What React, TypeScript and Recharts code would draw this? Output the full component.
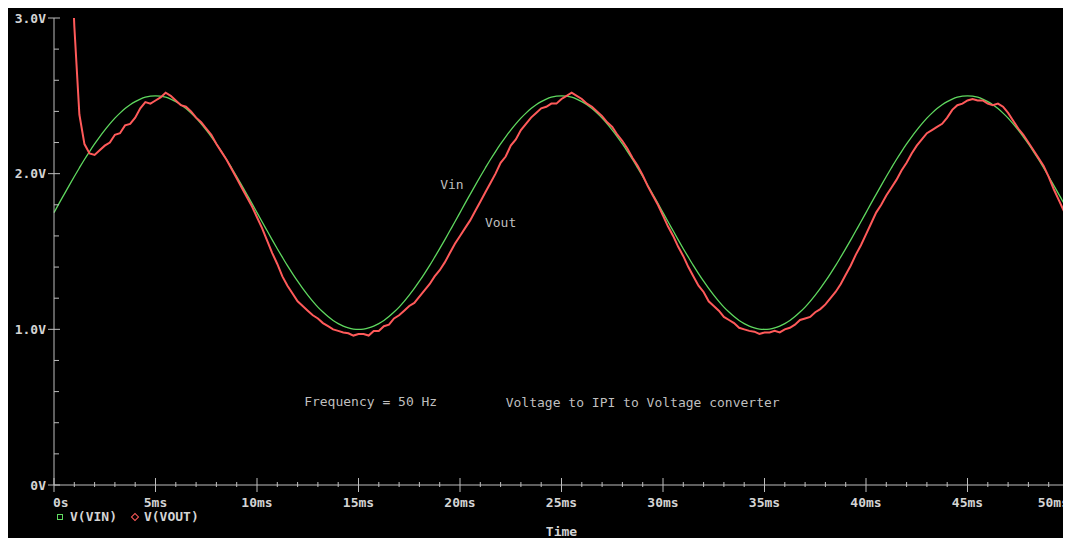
import { LineChart, Line, XAxis, YAxis, ReferenceDot, Legend } from "recharts";

// sample step of both traces, ms
const SAMPLE_STEP_MS = 0.25;

// V(VIN), read every 0.25 ms from 0 to 50 ms
const vin = [
  1.75, 1.809, 1.867, 1.925, 1.982, 2.037, 2.091, 2.142, 2.191, 2.237, 2.28, 2.32, 2.357, 2.389, 2.418, 2.443, 2.463, 2.479, 2.491, 2.498, 2.5,
  2.498, 2.491, 2.479, 2.463, 2.443, 2.418, 2.389, 2.357, 2.32, 2.28, 2.237, 2.191, 2.142, 2.091, 2.037, 1.982, 1.925, 1.867, 1.809, 1.75,
  1.691, 1.633, 1.575, 1.518, 1.463, 1.409, 1.358, 1.309, 1.263, 1.22, 1.18, 1.143, 1.111, 1.082, 1.057, 1.037, 1.021, 1.009, 1.002, 1.0,
  1.002, 1.009, 1.021, 1.037, 1.057, 1.082, 1.111, 1.143, 1.18, 1.22, 1.263, 1.309, 1.358, 1.409, 1.463, 1.518, 1.575, 1.633, 1.691, 1.75,
  1.809, 1.867, 1.925, 1.982, 2.037, 2.091, 2.142, 2.191, 2.237, 2.28, 2.32, 2.357, 2.389, 2.418, 2.443, 2.463, 2.479, 2.491, 2.498, 2.5,
  2.498, 2.491, 2.479, 2.463, 2.443, 2.418, 2.389, 2.357, 2.32, 2.28, 2.237, 2.191, 2.142, 2.091, 2.037, 1.982, 1.925, 1.867, 1.809, 1.75,
  1.691, 1.633, 1.575, 1.518, 1.463, 1.409, 1.358, 1.309, 1.263, 1.22, 1.18, 1.143, 1.111, 1.082, 1.057, 1.037, 1.021, 1.009, 1.002, 1.0,
  1.002, 1.009, 1.021, 1.037, 1.057, 1.082, 1.111, 1.143, 1.18, 1.22, 1.263, 1.309, 1.358, 1.409, 1.463, 1.518, 1.575, 1.633, 1.691, 1.75,
  1.809, 1.867, 1.925, 1.982, 2.037, 2.091, 2.142, 2.191, 2.237, 2.28, 2.32, 2.357, 2.389, 2.418, 2.443, 2.463, 2.479, 2.491, 2.498, 2.5,
  2.498, 2.491, 2.479, 2.463, 2.443, 2.418, 2.389, 2.357, 2.32, 2.28, 2.237, 2.191, 2.142, 2.091, 2.037, 1.982, 1.925, 1.867, 1.809, 1.75,
];

// V(VOUT), same sampling (starts far above the 3 V top, clipped)
const vout = [
  8.0, 6.2, 4.9, 3.75, 2.95, 2.38, 2.19, 2.13, 2.12, 2.15, 2.18,
  2.2, 2.25, 2.26, 2.31, 2.32, 2.36, 2.42, 2.46, 2.45, 2.47,
  2.49, 2.52, 2.5, 2.47, 2.44, 2.43, 2.4, 2.36, 2.33, 2.29,
  2.25, 2.19, 2.14, 2.09, 2.03, 1.97, 1.91, 1.85, 1.79, 1.72,
  1.65, 1.57, 1.49, 1.42, 1.34, 1.28, 1.23, 1.18, 1.15, 1.12,
  1.09, 1.07, 1.04, 1.02, 1.0, 0.99, 0.98, 0.975, 0.96, 0.97,
  0.97, 0.96, 0.99, 0.99, 1.02, 1.03, 1.07, 1.09, 1.12, 1.15,
  1.17, 1.21, 1.25, 1.29, 1.34, 1.38, 1.43, 1.49, 1.55, 1.6,
  1.65, 1.7, 1.76, 1.82, 1.88, 1.94, 2.0, 2.07, 2.11, 2.18,
  2.22, 2.28, 2.32, 2.36, 2.39, 2.42, 2.43, 2.45, 2.45, 2.48,
  2.5, 2.52, 2.5, 2.48, 2.45, 2.43, 2.4, 2.37, 2.33, 2.3,
  2.25, 2.21, 2.16, 2.1, 2.05, 1.99, 1.92, 1.86, 1.8, 1.73,
  1.66, 1.6, 1.53, 1.47, 1.4, 1.34, 1.28, 1.24, 1.18, 1.15,
  1.12, 1.08, 1.06, 1.04, 1.01, 1.0, 0.99, 0.985, 0.97, 0.98,
  0.98, 0.99, 0.98, 1.0, 1.01, 1.03, 1.06, 1.07, 1.08, 1.11,
  1.13, 1.16, 1.2, 1.24, 1.29, 1.35, 1.41, 1.48, 1.54, 1.61,
  1.68, 1.75, 1.8, 1.86, 1.91, 1.96, 2.02, 2.07, 2.13, 2.18,
  2.22, 2.26, 2.28, 2.3, 2.32, 2.36, 2.41, 2.44, 2.45, 2.47,
  2.48, 2.47, 2.47, 2.45, 2.44, 2.45, 2.43, 2.39, 2.34, 2.29,
  2.25, 2.2, 2.15, 2.1, 2.05, 1.98, 1.9, 1.83, 1.76, 1.69,
];

const timeTicks = [
  0, 1, 2, 3, 4, 5, 6, 7, 8, 9, 10, 11, 12, 13, 14, 15, 16, 17, 18, 19, 20, 21, 22, 23, 24, 25,
  26, 27, 28, 29, 30, 31, 32, 33, 34, 35, 36, 37, 38, 39, 40, 41, 42, 43, 44, 45, 46, 47, 48, 49, 50,
];
const timeLabels = ["0s", "5ms", "10ms", "15ms", "20ms", "25ms", "30ms", "35ms", "40ms", "45ms", "50ms"];

const voltTicks = [0, 0.2, 0.4, 0.6, 0.8, 1, 1.2, 1.4, 1.6, 1.8, 2, 2.2, 2.4, 2.6, 2.8, 3];
const voltLabels = ["0V", "1.0V", "2.0V", "3.0V"];

const notes = [
  { text: "Vin", t: 19.6, v: 1.93 },
  { text: "Vout", t: 22.0, v: 1.69 },
  { text: "Frequency = 50 Hz", t: 15.6, v: 0.54 },
  { text: "Voltage to IPI to Voltage converter", t: 29.0, v: 0.53 },
];

const rows = vin.map((v, i) => ({ t: i * SAMPLE_STEP_MS, vin: v, vout: vout[i] }));

const AXIS = "#bdbdbd";
const TEXT = "#d4d4d4";
const VIN_COLOR = "#5fd85f";
const VOUT_COLOR = "#ff5a5a";
const MONO = "'DejaVu Sans Mono', 'Liberation Mono', monospace";

const isMajorVolt = (v: number) => Math.abs(v - Math.round(v)) < 1e-6;

function BottomTick(props: any) {
  const { x, y, payload } = props;
  const v = payload.value;
  const major = v % 5 === 0;
  const anchor = v === 0 ? "start" : v === 50 ? "end" : "middle";
  return (
    <g>
      <line x1={x} x2={x} y1={y - (major ? 7 : 3)} y2={y + (major ? 7 : 2)} stroke={AXIS} />
      {major && (
        <text
          x={v === 0 ? x - 1 : x}
          y={y + 22}
          textAnchor={anchor}
          fill={TEXT}
          fontFamily={MONO}
          fontSize={13}
          fontWeight="bold"
        >
          {timeLabels[v / 5]}
        </text>
      )}
    </g>
  );
}

function TopTick(props: any) {
  const { x, y, payload } = props;
  const major = payload.value % 5 === 0;
  return <line x1={x} x2={x} y1={y} y2={y + (major ? 6 : 4)} stroke={AXIS} />;
}

function LeftTick(props: any) {
  const { x, y, payload } = props;
  const v = payload.value;
  if (!isMajorVolt(v)) {
    return <line x1={x} x2={x + 5} y1={y} y2={y} stroke={AXIS} />;
  }
  return (
    <g>
      <line x1={x - 6} x2={x + 6} y1={y} y2={y} stroke={AXIS} />
      <text x={x - 8} y={y + 4.5} textAnchor="end" fill={TEXT} fontFamily={MONO} fontSize={13} fontWeight="bold">
        {voltLabels[Math.round(v)]}
      </text>
    </g>
  );
}

function RightTick(props: any) {
  const { x, y, payload } = props;
  const major = isMajorVolt(payload.value);
  return <line x1={x - (major ? 6 : 4)} x2={x} y1={y} y2={y} stroke={AXIS} />;
}

function LegendRow() {
  return (
    <div
      style={{
        display: "flex",
        alignItems: "center",
        fontFamily: MONO,
        fontSize: 13,
        fontWeight: "bold",
        color: TEXT,
        lineHeight: "14px",
      }}
    >
      <span style={{ width: 4, height: 4, border: `1px solid ${VIN_COLOR}`, marginRight: 7 }} />
      <span>V(VIN)</span>
      <span
        style={{
          width: 4,
          height: 4,
          border: `1px solid ${VOUT_COLOR}`,
          transform: "rotate(45deg)",
          marginLeft: 15,
          marginRight: 6,
        }}
      />
      <span>V(VOUT)</span>
    </div>
  );
}

export default function App() {
  return (
    <div style={{ width: 1063, height: 530, background: "#000" }}>
      <LineChart width={1063} height={530} data={rows} margin={{ top: 10, right: 2, bottom: 0, left: 0 }}>
        <XAxis
          dataKey="t"
          type="number"
          domain={[0, 50]}
          ticks={timeTicks}
          interval={0}
          height={53}
          tickSize={0}
          tickMargin={0}
          tick={<BottomTick />}
          axisLine={{ stroke: AXIS }}
          tickLine={false}
          label={{
            value: "Time",
            position: "insideBottom",
            offset: 2,
            fill: TEXT,
            fontFamily: MONO,
            fontSize: 13,
            fontWeight: "bold",
          }}
        />
        <XAxis
          xAxisId="top"
          orientation="top"
          type="number"
          domain={[0, 50]}
          ticks={timeTicks}
          interval={0}
          height={0}
          tickSize={0}
          tickMargin={0}
          tick={<TopTick />}
          axisLine={{ stroke: AXIS }}
          tickLine={false}
        />
        <YAxis
          type="number"
          domain={[0, 3]}
          allowDataOverflow
          ticks={voltTicks}
          interval={0}
          width={46}
          tickSize={0}
          tickMargin={0}
          tick={<LeftTick />}
          axisLine={{ stroke: AXIS }}
          tickLine={false}
        />
        <YAxis
          yAxisId="right"
          orientation="right"
          type="number"
          domain={[0, 3]}
          ticks={voltTicks}
          interval={0}
          width={0}
          tickSize={0}
          tickMargin={0}
          tick={<RightTick />}
          axisLine={{ stroke: AXIS }}
          tickLine={false}
        />
        <Legend
          verticalAlign="middle"
          align="center"
          content={<LegendRow />}
          wrapperStyle={{ left: 49, top: 502, width: "auto", height: "auto" }}
        />
        <Line
          dataKey="vin"
          name="V(VIN)"
          type="monotone"
          stroke={VIN_COLOR}
          strokeWidth={1.3}
          dot={false}
          isAnimationActive={false}
        />
        <Line
          dataKey="vout"
          name="V(VOUT)"
          type="linear"
          stroke={VOUT_COLOR}
          strokeWidth={2}
          dot={false}
          isAnimationActive={false}
        />
        {notes.map((n) => (
          <ReferenceDot
            key={n.text}
            x={n.t}
            y={n.v}
            r={0}
            stroke="none"
            fill="none"
            label={{
              value: n.text,
              position: "center",
              fill: "#bfbfbf",
              fontFamily: MONO,
              fontSize: 13,
            }}
          />
        ))}
      </LineChart>
    </div>
  );
}
